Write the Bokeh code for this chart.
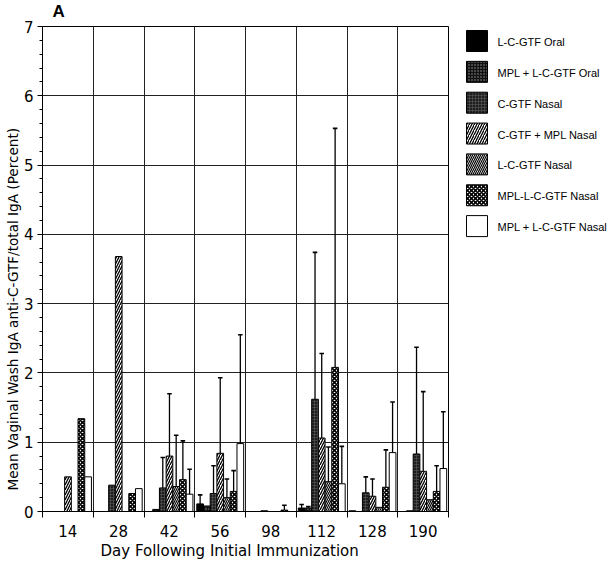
import numpy as np
from bokeh.plotting import figure
from bokeh.layouts import row
from bokeh.models import (ColumnDataSource, Range1d, FixedTicker, SingleIntervalTicker,
                          Title)
from bokeh.core.properties import value
from bokeh.embed import file_html
from bokeh.resources import INLINE

# ---------------- data ----------------
days = ["14", "28", "42", "56", "98", "112", "128", "190"]
series_names = ["L-C-GTF Oral", "MPL + L-C-GTF Oral", "C-GTF Nasal", "C-GTF + MPL Nasal",
                "L-C-GTF Nasal", "MPL-L-C-GTF Nasal", "MPL + L-C-GTF Nasal"]

nan = float("nan")
lcgtf_oral      = [0.00, 0.00, 0.00, 0.11, 0.00, 0.05, 0.01, 0.00]
mpl_lcgtf_oral  = [0.00, 0.00, 0.03, 0.08, 0.00, 0.05, 0.00, 0.01]
cgtf_nasal      = [0.00, 0.38, 0.34, 0.26, 0.01, 1.62, 0.27, 0.83]
cgtf_mpl_nasal  = [0.50, 3.68, 0.80, 0.84, 0.00, 1.06, 0.22, 0.58]
lcgtf_nasal     = [0.00, 0.00, 0.36, 0.20, 0.00, 0.43, 0.06, 0.17]
mpl_l_cgtf_nas  = [1.34, 0.26, 0.46, 0.29, 0.02, 2.08, 0.35, 0.29]
mpl_lcgtf_nasal = [0.50, 0.33, 0.25, 0.98, 0.00, 0.40, 0.85, 0.62]

# upper end of error bars (mean + SD); nan = no bar drawn
up_lcgtf_oral      = [nan, nan, nan, 0.24, nan, 0.10, nan, nan]
up_mpl_lcgtf_oral  = [nan, nan, nan, nan, nan, 0.07, nan, nan]
up_cgtf_nasal      = [nan, nan, 0.78, 0.66, nan, 3.74, 0.50, 2.37]
up_cgtf_mpl_nasal  = [nan, nan, 1.70, 1.93, nan, 2.28, 0.47, 1.73]
up_lcgtf_nasal     = [nan, nan, 1.10, 0.47, nan, 0.93, nan, nan]
up_mpl_l_cgtf_nas  = [nan, nan, 1.02, 0.59, 0.09, 5.53, 0.89, 0.66]
up_mpl_lcgtf_nasal = [nan, nan, 0.61, 2.55, nan, 0.94, 1.58, 1.44]

values = [lcgtf_oral, mpl_lcgtf_oral, cgtf_nasal, cgtf_mpl_nasal,
          lcgtf_nasal, mpl_l_cgtf_nas, mpl_lcgtf_nasal]
uppers = [up_lcgtf_oral, up_mpl_lcgtf_oral, up_cgtf_nasal, up_cgtf_mpl_nasal,
          up_lcgtf_nasal, up_mpl_l_cgtf_nas, up_mpl_lcgtf_nasal]

# ---------------- styles ----------------
styles = [
    dict(fill_color="black"),
    dict(fill_color="#111111", hatch_pattern=".", hatch_color="#9a9a9a", hatch_scale=3, hatch_weight=0.6),
    dict(fill_color="#1e1e1e", hatch_pattern="+", hatch_color="#5a5a5a", hatch_scale=3, hatch_weight=0.6),
    dict(fill_color="white", hatch_pattern="/", hatch_color="black", hatch_scale=5, hatch_weight=1.3),
    dict(fill_color="white", hatch_pattern="\\", hatch_color="black", hatch_scale=4, hatch_weight=1.2),
    dict(fill_color="white", hatch_pattern="x", hatch_color="black", hatch_scale=4, hatch_weight=1.6),
    dict(fill_color="white"),
]

FONT = "DejaVu Sans"
TOP, BOTTOM = 26, 50   # border sizes shared by both panels

p = figure(width=449, height=561, output_backend="svg", toolbar_location=None,
           x_range=Range1d(0, len(days)), y_range=Range1d(0, 7),
           min_border_left=42, min_border_right=1, min_border_top=TOP, min_border_bottom=BOTTOM,
           outline_line_color="black", outline_line_width=1)
p.background_fill_color = "white"
p.border_fill_color = "white"

n = len(series_names)
pad = 0.04
bw = 0.132
idx = np.arange(len(days))

for j in range(n):
    xs = idx + pad + (j + 0.5) * bw
    src = ColumnDataSource(dict(x=xs, top=values[j]))
    p.vbar(x="x", top="top", bottom=0, width=bw, source=src,
           line_color="black", line_width=1, **styles[j])
    up = np.array(uppers[j], dtype=float)
    m = ~np.isnan(up)
    ex = xs[m]
    ev = np.array(values[j])[m]
    eu = up[m]
    esrc = ColumnDataSource(dict(x=ex, y0=ev, y1=eu, xl=ex - 0.045, xr=ex + 0.045))
    p.segment(x0="x", y0="y0", x1="x", y1="y1", source=esrc, line_color="black", line_width=1.3)
    p.segment(x0="xl", y0="y1", x1="xr", y1="y1", source=esrc, line_color="black", line_width=1.6)

# ---------------- axes ----------------
centers = [i + 0.5 for i in range(len(days))]
bounds = list(range(len(days) + 1))
p.xaxis.ticker = FixedTicker(ticks=centers, minor_ticks=bounds)
p.xaxis.major_label_overrides = {c: d for c, d in zip(centers, days)}
p.xaxis.major_tick_line_color = None
p.xaxis.minor_tick_line_color = "black"
p.xaxis.minor_tick_out = 6
p.xaxis.minor_tick_in = 0
p.xaxis.major_label_standoff = 7
p.xaxis.major_label_text_font = FONT
p.xaxis.major_label_text_font_size = "15px"
p.xaxis.major_label_text_color = "black"
p.xaxis.axis_line_color = "black"

p.yaxis.ticker = SingleIntervalTicker(interval=1, num_minor_ticks=5)
p.yaxis.major_tick_out = 5
p.yaxis.major_tick_in = 0
p.yaxis.minor_tick_out = 3
p.yaxis.minor_tick_in = 0
p.yaxis.major_tick_line_color = "black"
p.yaxis.minor_tick_line_color = "black"
p.yaxis.major_label_standoff = 4
p.yaxis.major_label_text_font = FONT
p.yaxis.major_label_text_font_size = "15px"
p.yaxis.major_label_text_color = "black"
p.yaxis.axis_line_color = "black"

p.xgrid.grid_line_color = None
p.xgrid.minor_grid_line_color = "#222222"
p.xgrid.minor_grid_line_width = 1
p.ygrid.grid_line_color = "#222222"
p.ygrid.grid_line_width = 1

# titles / axis labels (a tiny blank title keeps a gap between "A" and the frame)
p.add_layout(Title(text=" ", standoff=0, text_font=FONT, text_font_size="2px"), "above")
p.add_layout(Title(text="A", align="left", offset=10, standoff=0, vertical_align="top",
                   text_font="Liberation Sans", text_font_size="17px",
                   text_font_style="bold", text_color="black"), "above")
p.add_layout(Title(text="Day Following Initial Immunization", align="left", offset=58,
                   standoff=0, text_font=FONT, text_font_size="15px",
                   text_font_style="normal", text_color="black"), "below")
p.add_layout(Title(text="Mean Vaginal Wash IgA anti-C-GTF/total IgA (Percent)", align="left",
                   offset=21, standoff=0, text_font=FONT, text_font_size="13.6px",
                   text_font_style="normal", text_color="black"), "left")

# ---------------- legend (separate panel, page-pixel coordinates) ----------------
lw, lh = 163, 561
lg = figure(width=lw, height=lh, output_backend="svg", toolbar_location=None,
            x_range=Range1d(0, lw), y_range=Range1d(lh - BOTTOM, TOP),
            min_border_left=0, min_border_right=0, min_border_top=TOP, min_border_bottom=BOTTOM,
            outline_line_color=None)
lg.axis.visible = False
lg.grid.visible = False
lg.background_fill_color = "white"
lg.border_fill_color = "white"

for j in range(n):
    top = 30 + j * 30.85
    lg.quad(left=17, right=38, top=top, bottom=top + 21,
            line_color="black", line_width=1, **styles[j])
lg.text(x=[48] * n, y=[30 + j * 30.85 + 11.5 for j in range(n)], text=series_names,
        text_font=value("Liberation Sans"), text_font_size="11px",
        text_baseline="middle", text_align="left", text_color="black")

layout = row(p, lg)
open("out.html", "w").write(file_html(layout, INLINE))
